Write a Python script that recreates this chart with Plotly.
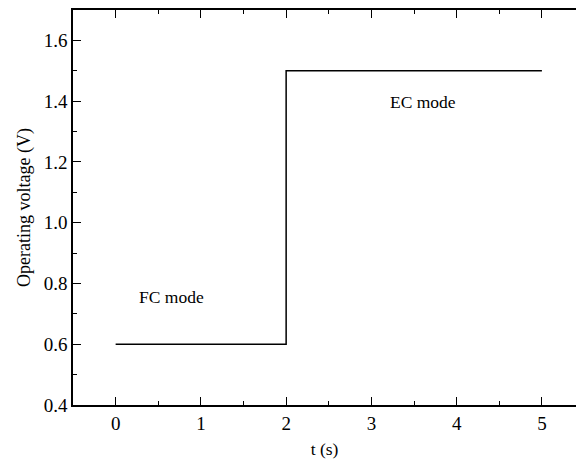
import plotly.graph_objects as go

t_vals = [0, 2, 2, 5]
v_vals = [0.6, 0.6, 1.5, 1.5]
x_ticks = [0, 1, 2, 3, 4, 5]
y_ticks = [0.4, 0.6, 0.8, 1.0, 1.2, 1.4, 1.6]
y_tick_text = ["0.4", "0.6", "0.8", "1.0", "1.2", "1.4", "1.6"]
labels = ["FC mode", "EC mode"]
label_t = [0.66, 3.6]
label_v = [0.755, 1.397]

FONT = "Liberation Serif, Times New Roman, DejaVu Serif, serif"

fig = go.Figure()
fig.add_trace(go.Scatter(x=t_vals, y=v_vals, mode="lines",
                         line=dict(color="black", width=1.5), showlegend=False))
for txt, xx, yy in zip(labels, label_t, label_v):
    fig.add_annotation(x=xx, y=yy, text=txt, showarrow=False,
                       font=dict(family=FONT, size=17.5, color="black"))

fig.update_layout(
    width=576, height=459,
    margin=dict(l=73, r=0, t=10, b=54),
    paper_bgcolor="white", plot_bgcolor="white",
    font=dict(family=FONT, color="black"),
)
fig.update_xaxes(
    range=[-0.5, 5.4], tickvals=x_ticks, ticktext=[str(v) for v in x_ticks],
    showgrid=False, zeroline=False, showline=True, linecolor="black", linewidth=1.5,
    mirror="ticks", ticks="inside", ticklen=8, tickwidth=1.3, tickcolor="black",
    tickfont=dict(family=FONT, size=19),
    minor=dict(dtick=0.5, tick0=0, ticks="inside", ticklen=4, tickwidth=1.3, tickcolor="black"),
    title=dict(text="t (s)", font=dict(family=FONT, size=17.5), standoff=10),
)
fig.update_yaxes(
    range=[0.4, 1.7], tickvals=y_ticks, ticktext=y_tick_text,
    showgrid=False, zeroline=False, showline=True, linecolor="black", linewidth=1.5,
    mirror=False, ticks="inside", ticklen=8, tickwidth=1.3, tickcolor="black",
    tickfont=dict(family=FONT, size=19),
    minor=dict(dtick=0.1, tick0=0.4, ticks="inside", ticklen=4, tickwidth=1.3, tickcolor="black"),
    title=dict(text="Operating voltage (V)", font=dict(family=FONT, size=18), standoff=8),
)

fig.write_html("out.html")
